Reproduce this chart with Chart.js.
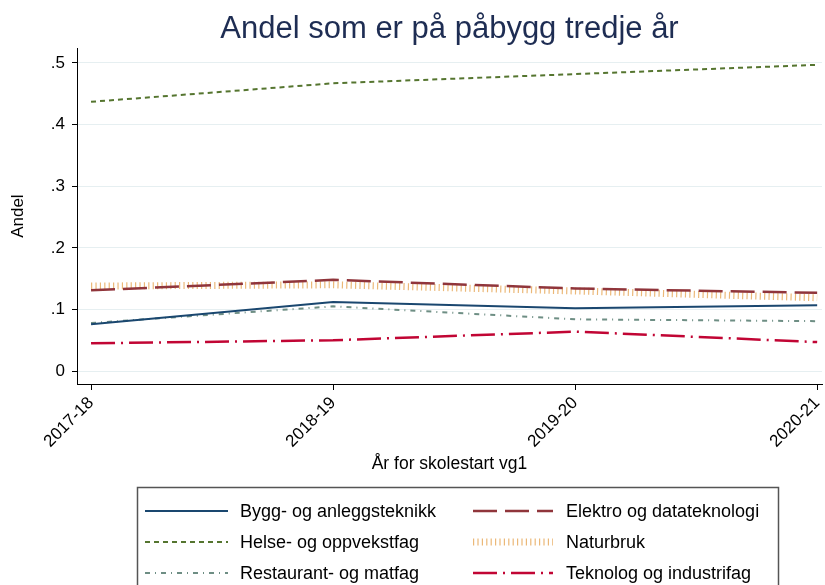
<!DOCTYPE html>
<html>
<head>
<meta charset="utf-8">
<script src="https://cdn.jsdelivr.net/npm/chart.js@4/dist/chart.umd.min.js"></script>
<style>
	body { margin: 0; background: #fff; }
	#graph { display: block; }
</style>
</head>
<body>
<canvas id="graph" width="825" height="585"></canvas>
<script>
const years = ["2017-18", "2018-19", "2019-20", "2020-21"];
const yTicks = [0, 0.1, 0.2, 0.3, 0.4, 0.5];

// andel per utdanningsprogram, lest av figuren
const bygg = [0.076, 0.112, 0.102, 0.107];
const elektro = [0.131, 0.148, 0.134, 0.127];
const helse = [0.437, 0.467, 0.482, 0.497];
const naturbruk = [0.138, 0.140, 0.130, 0.119];
const restaurant = [0.078, 0.105, 0.084, 0.081];
const teknolog = [0.045, 0.050, 0.064, 0.047];

const names = ["Bygg- og anleggsteknikk", "Elektro og datateknologi", "Helse- og oppvekstfag",
	"Naturbruk", "Restaurant- og matfag", "Teknolog og industrifag"];
const series = [bygg, elektro, helse, naturbruk, restaurant, teknolog];
const colors = ["#1a476f", "#90353b", "#55752f", "#ebb878", "#6e8e84", "#c10534"];
const widths = [2, 2.5, 2, 7, 2, 2.5];
const dashes = [[], [24, 8], [5, 4], [1.2, 3.2], [5, 5, 1, 5], [24, 6, 2, 6]];

const font = "'Liberation Sans', Arial, sans-serif";

function toPoints(vals) {
	return vals.map((v, i) => {
		return { x: i, y: v };
	});
}

let traces = [];
series.forEach((vals, id) => {
	traces.push({
		label: names[id],
		data: toPoints(vals),
		borderColor: colors[id],
		backgroundColor: colors[id],
		borderWidth: widths[id],
		borderDash: dashes[id],
		pointRadius: 0,
		tension: 0,
		fill: false
	});
});

// egen legende i boks under figuren
const boxLegend = {
	id: "boxLegend",
	afterDraw(chart) {
		const ctx = chart.ctx;
		ctx.save();
		ctx.strokeStyle = "#555";
		ctx.lineWidth = 1.5;
		ctx.strokeRect(137.5, 487.5, 641, 130);
		ctx.font = "18px " + font;
		ctx.textBaseline = "middle";
		ctx.fillStyle = "#000";
		chart.data.datasets.forEach((ds, i) => {
			let col = i % 2;
			let row = Math.floor(i / 2);
			let y = 511 + row * 31;
			let x0 = col == 0 ? 145 : 473;
			let x1 = col == 0 ? 228 : 553;
			ctx.beginPath();
			ctx.setLineDash(ds.borderDash);
			ctx.strokeStyle = ds.borderColor;
			ctx.lineWidth = ds.borderWidth;
			ctx.moveTo(x0, y);
			ctx.lineTo(x1, y);
			ctx.stroke();
			ctx.setLineDash([]);
			ctx.fillText(ds.label, col == 0 ? 240 : 566, y + 1);
		});
		ctx.restore();
	}
};

const chart = new Chart(document.getElementById("graph"), {
	type: "line",
	data: { datasets: traces },
	plugins: [boxLegend],
	options: {
		responsive: false,
		animation: false,
		layout: { padding: { left: 0, right: 3, top: 0, bottom: 110 } },
		plugins: {
			legend: { display: false },
			tooltip: { enabled: false },
			title: {
				display: true,
				text: "Andel som er på påbygg tredje år",
				color: "#1e2d53",
				fullSize: false,
				font: { family: font, size: 31, weight: "normal" },
				padding: { top: 11, bottom: 0 }
			}
		},
		scales: {
			x: {
				type: "linear",
				min: -0.058,
				max: 3.02,
				afterFit: (scale) => {
					scale.height = 91;
					scale.paddingRight = 0;
				},
				afterBuildTicks: (scale) => {
					scale.ticks = years.map((y, i) => ({ value: i }));
				},
				grid: { drawOnChartArea: false, drawTicks: true, tickLength: 6, tickColor: "#000" },
				border: { color: "#000", width: 1 },
				ticks: {
					minRotation: 45,
					maxRotation: 45,
					padding: 3,
					color: "#000",
					font: { family: font, size: 17 },
					callback: (v) => years[v]
				},
				title: {
					display: true,
					text: "År for skolestart vg1",
					color: "#000",
					font: { family: font, size: 17.5 },
					padding: { top: 4, bottom: 0 }
				}
			},
			y: {
				min: -0.021,
				max: 0.524,
				afterFit: (scale) => { scale.width = 77; },
				afterBuildTicks: (scale) => {
					scale.ticks = yTicks.map((v) => ({ value: v }));
				},
				grid: { color: "#e6eff1", lineWidth: 1, drawTicks: true, tickLength: 5, tickColor: "#000" },
				border: { color: "#000", width: 1 },
				ticks: {
					padding: 7,
					color: "#000",
					font: { family: font, size: 17 },
					callback: (v) => v == 0 ? "0" : String(Math.round(v * 10) / 10).replace("0.", ".")
				},
				title: {
					display: true,
					text: "Andel",
					color: "#000",
					font: { family: font, size: 17 },
					padding: { top: 8, bottom: 0 }
				}
			}
		}
	}
});
</script>
</body>
</html>
